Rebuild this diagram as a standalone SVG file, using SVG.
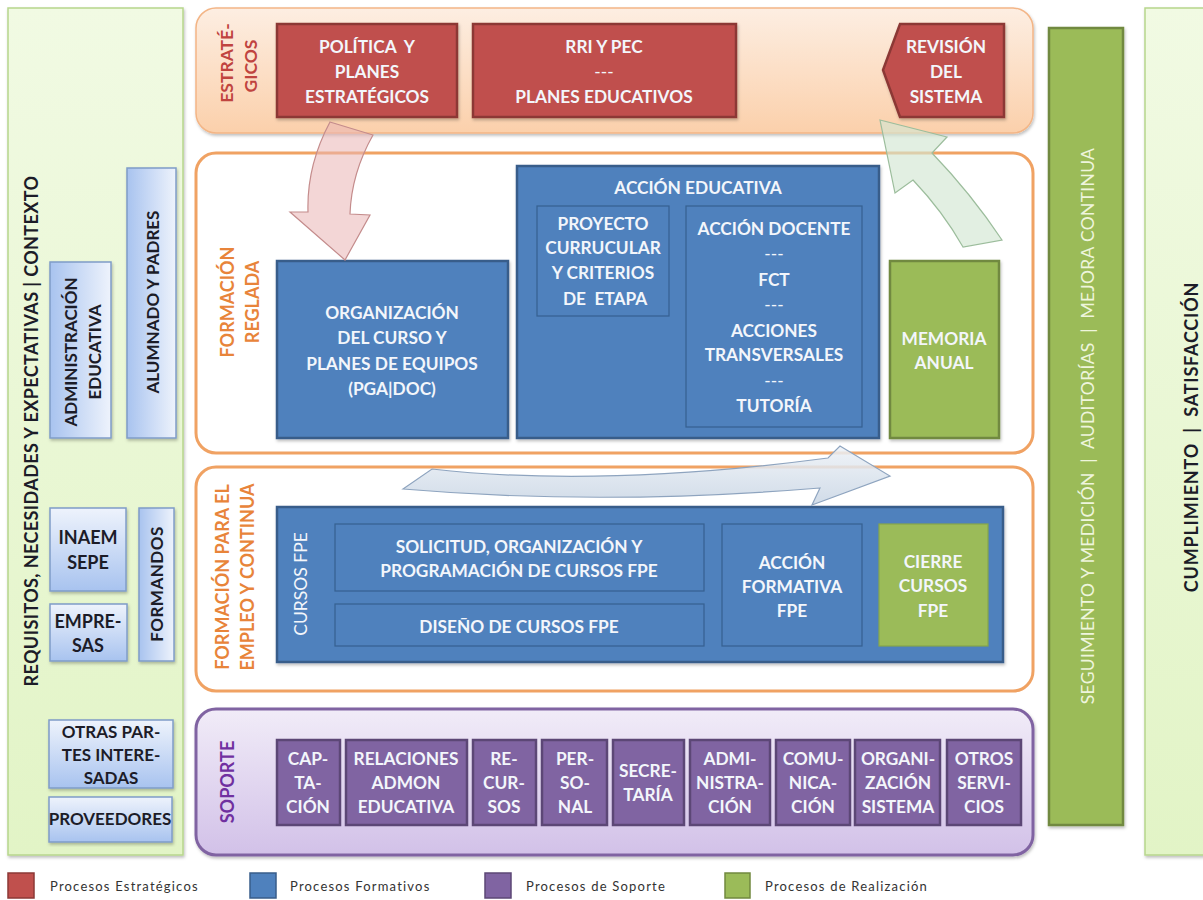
<svg xmlns="http://www.w3.org/2000/svg" width="1203" height="900" viewBox="0 0 1203 900">
<defs>
<linearGradient id="gLeft" x1="0" y1="0" x2="0" y2="1"><stop offset="0" stop-color="#f1fae3"/><stop offset="1" stop-color="#e2f4c6"/></linearGradient>
<linearGradient id="gBlueL" x1="0" y1="0" x2="0" y2="1"><stop offset="0" stop-color="#eef3fc"/><stop offset="1" stop-color="#a8c3ef"/></linearGradient>
<linearGradient id="gBlueV" x1="1" y1="0" x2="0" y2="0"><stop offset="0" stop-color="#eef3fc"/><stop offset="1" stop-color="#a8c3ef"/></linearGradient>
<linearGradient id="gOrange" x1="0" y1="0" x2="0" y2="1"><stop offset="0" stop-color="#fdeee2"/><stop offset="1" stop-color="#fbd0ab"/></linearGradient>
<linearGradient id="gPurple" x1="0" y1="0" x2="0" y2="1"><stop offset="0" stop-color="#f1ecf8"/><stop offset="1" stop-color="#d2c1e8"/></linearGradient>
<linearGradient id="gArrow" x1="0" y1="0" x2="0" y2="1"><stop offset="0" stop-color="#eef2f7" stop-opacity="0.85"/><stop offset="1" stop-color="#c8d5e4" stop-opacity="0.85"/></linearGradient>
<filter id="sh" x="-10%" y="-10%" width="120%" height="120%"><feDropShadow dx="1" dy="2" stdDeviation="1.5" flood-color="#000" flood-opacity="0.25"/></filter>
</defs>
<style>
text{font-family:Lato,"Open Sans","Liberation Sans",sans-serif;font-weight:bold;text-anchor:middle;dominant-baseline:central}
.w{fill:#f3f6fb;font-size:17.3px}
.d{fill:#1c1c28;font-size:17px}
.red{fill:#c0504d;stroke:#8c3836;stroke-width:2.5}
.blue{fill:#4f81bd;stroke:#385d8a;stroke-width:2.5}
.blin{fill:#4f81bd;stroke:#36608f;stroke-width:1.2}
.grn{fill:#9bbb59;stroke:#71893f;stroke-width:2.5}
.pur{fill:#8064a2;stroke:#5c4776;stroke-width:2.5}
.lb{fill:url(#gBlueL);stroke:#7f9cc8;stroke-width:1.5}
.lbv{fill:url(#gBlueV);stroke:#7f9cc8;stroke-width:1.5}
.panel{fill:#fff;stroke:#f0a263;stroke-width:3}
.olab{fill:#e8843a;font-size:18px}
.leg{fill:#333;font-size:13px;font-weight:normal;text-anchor:start;letter-spacing:1.2px}
</style>

<!-- Left context panel -->
<g id="contexto">
<rect x="8" y="8" width="175" height="847" fill="url(#gLeft)" stroke="#b7d68c" stroke-width="1.5" filter="url(#sh)"/>
<text class="d" transform="translate(31,431) rotate(-90)" style="font-size:18px;letter-spacing:0.4px">REQUISITOS, NECESIDADES Y EXPECTATIVAS | CONTEXTO</text>
</g>
<g id="admin-educativa">
<rect class="lbv" x="50" y="262" width="61" height="176" filter="url(#sh)"/>
<text class="d" transform="translate(70,352) rotate(-90)">ADMINISTRACIÓN</text>
<text class="d" transform="translate(94,352) rotate(-90)">EDUCATIVA</text>
</g>
<g id="alumnado">
<rect class="lbv" x="127" y="168" width="49" height="270" filter="url(#sh)"/>
<text class="d" transform="translate(152,302) rotate(-90)">ALUMNADO Y PADRES</text>
</g>
<g id="inaem">
<rect class="lb" x="50" y="508" width="76" height="83" filter="url(#sh)"/>
<text class="d" x="88" y="537" style="font-size:18px">INAEM</text>
<text class="d" x="88" y="562" style="font-size:18px">SEPE</text>
</g>
<g id="empresas">
<rect class="lb" x="50" y="604" width="77" height="57" filter="url(#sh)"/>
<text class="d" x="88" y="621" style="font-size:18px">EMPRE-</text>
<text class="d" x="88" y="645" style="font-size:18px">SAS</text>
</g>
<g id="formandos">
<rect class="lbv" x="139" y="508" width="35" height="153" filter="url(#sh)"/>
<text class="d" transform="translate(156,584) rotate(-90)" style="letter-spacing:0.5px">FORMANDOS</text>
</g>
<g id="otras-partes">
<rect class="lb" x="49" y="720" width="124" height="68" filter="url(#sh)"/>
<text class="d" x="111" y="731">OTRAS PAR-</text>
<text class="d" x="111" y="754">TES INTERE-</text>
<text class="d" x="111" y="777">SADAS</text>
</g>
<g id="proveedores">
<rect class="lb" x="49" y="797" width="123" height="45" filter="url(#sh)"/>
<text class="d" x="110" y="818">PROVEEDORES</text>
</g>

<!-- Estrategicos -->
<g id="estrategicos">
<rect x="196" y="8" width="837" height="125" rx="20" fill="url(#gOrange)" stroke="#f3b586" stroke-width="1.5" filter="url(#sh)"/>
<text transform="translate(226,63) rotate(-90)" style="fill:#c0443f;font-size:17.5px">ESTRATÉ-</text>
<text transform="translate(250,66) rotate(-90)" style="fill:#c0443f;font-size:17.5px">GICOS</text>
</g>
<g id="politica">
<rect class="red" x="277" y="24" width="180" height="93" filter="url(#sh)"/>
<text class="w" x="367" y="46" xml:space="preserve">POLÍTICA  Y</text>
<text class="w" x="367" y="71">PLANES</text>
<text class="w" x="367" y="96">ESTRATÉGICOS</text>
</g>
<g id="rri-pec">
<rect class="red" x="473" y="24" width="263" height="93" filter="url(#sh)"/>
<text class="w" x="604" y="46">RRI Y PEC</text>
<text class="w" x="604" y="71" style="font-weight:normal">---</text>
<text class="w" x="604" y="96">PLANES EDUCATIVOS</text>
</g>
<g id="revision">
<polygon class="red" points="900,24 1004,24 1004,117 900,117 883,70" filter="url(#sh)"/>
<text class="w" x="946" y="46">REVISIÓN</text>
<text class="w" x="946" y="71">DEL</text>
<text class="w" x="946" y="96">SISTEMA</text>
</g>

<!-- Formacion reglada -->
<g id="formacion-reglada">
<rect class="panel" x="196" y="153" width="837" height="300" rx="20"/>
<text class="olab" transform="translate(227,302) rotate(-90)">FORMACIÓN</text>
<text class="olab" transform="translate(252,302) rotate(-90)">REGLADA</text>
</g>
<g id="organizacion">
<rect class="blue" x="277" y="261" width="231" height="177" filter="url(#sh)"/>
<text class="w" x="392" y="312">ORGANIZACIÓN</text>
<text class="w" x="392" y="337">DEL CURSO Y</text>
<text class="w" x="392" y="363">PLANES DE EQUIPOS</text>
<text class="w" x="392" y="388">(PGA|DOC)</text>
</g>
<g id="accion-educativa">
<rect class="blue" x="517" y="166" width="362" height="272" filter="url(#sh)"/>
<text class="w" x="698" y="187">ACCIÓN EDUCATIVA</text>
</g>
<g id="proyecto-curricular">
<rect class="blin" x="537" y="206" width="132" height="110"/>
<text class="w" x="603" y="223">PROYECTO</text>
<text class="w" x="603" y="247">CURRUCULAR</text>
<text class="w" x="603" y="272">Y CRITERIOS</text>
<text class="w" x="603" y="298" xml:space="preserve"> DE  ETAPA</text>
</g>
<g id="accion-docente">
<rect class="blin" x="686" y="206" width="176" height="221"/>
<text class="w" x="774" y="228">ACCIÓN DOCENTE</text>
<text class="w" x="774" y="253" style="font-weight:normal">---</text>
<text class="w" x="774" y="279">FCT</text>
<text class="w" x="774" y="304" style="font-weight:normal">---</text>
<text class="w" x="774" y="330">ACCIONES</text>
<text class="w" x="774" y="354">TRANSVERSALES</text>
<text class="w" x="774" y="380" style="font-weight:normal">---</text>
<text class="w" x="774" y="405">TUTORÍA</text>
</g>
<g id="memoria">
<rect class="grn" x="890" y="261" width="109" height="177" filter="url(#sh)"/>
<text class="w" x="944" y="338">MEMORIA</text>
<text class="w" x="944" y="362">ANUAL</text>
</g>

<!-- Formacion para el empleo -->
<g id="formacion-empleo">
<rect class="panel" x="196" y="467" width="837" height="224" rx="20"/>
<text class="olab" transform="translate(222,577) rotate(-90)">FORMACIÓN PARA EL</text>
<text class="olab" transform="translate(247,577) rotate(-90)">EMPLEO Y CONTINUA</text>
</g>
<g id="cursos-fpe">
<rect class="blue" x="277" y="507" width="726" height="155" filter="url(#sh)"/>
<text class="w" transform="translate(300,584) rotate(-90)" style="font-weight:normal;font-size:17.5px">CURSOS FPE</text>
</g>
<g id="solicitud">
<rect class="blin" x="335" y="524" width="369" height="67"/>
<text class="w" x="519" y="546">SOLICITUD, ORGANIZACIÓN Y</text>
<text class="w" x="519" y="570">PROGRAMACIÓN DE CURSOS FPE</text>
</g>
<g id="diseno">
<rect class="blin" x="335" y="604" width="369" height="42"/>
<text class="w" x="519" y="626">DISEÑO DE CURSOS FPE</text>
</g>
<g id="accion-formativa">
<rect class="blin" x="722" y="524" width="140" height="122"/>
<text class="w" x="792" y="562">ACCIÓN</text>
<text class="w" x="792" y="586">FORMATIVA</text>
<text class="w" x="792" y="610">FPE</text>
</g>
<g id="cierre">
<rect x="879" y="524" width="109" height="122" fill="#9bbb59" stroke="#86a64a" stroke-width="1.2"/>
<text class="w" x="933" y="561">CIERRE</text>
<text class="w" x="933" y="585">CURSOS</text>
<text class="w" x="933" y="610">FPE</text>
</g>

<!-- Soporte -->
<g id="soporte">
<rect x="196" y="709" width="837" height="146" rx="20" fill="url(#gPurple)" stroke="#8064a2" stroke-width="3" filter="url(#sh)"/>
<text transform="translate(227,782) rotate(-90)" style="fill:#7030a0;font-size:18px">SOPORTE</text>
</g>
<g id="captacion"><rect class="pur" x="277" y="740" width="63" height="85"/>
<text class="w" x="308" y="758">CAP-</text><text class="w" x="308" y="782">TA-</text><text class="w" x="308" y="806">CIÓN</text></g>
<g id="relaciones"><rect class="pur" x="346" y="740" width="121" height="85"/>
<text class="w" x="406" y="758">RELACIONES</text><text class="w" x="406" y="782">ADMON</text><text class="w" x="406" y="806">EDUCATIVA</text></g>
<g id="recursos"><rect class="pur" x="473" y="740" width="63" height="85"/>
<text class="w" x="504" y="758">RE-</text><text class="w" x="504" y="782">CUR-</text><text class="w" x="504" y="806">SOS</text></g>
<g id="personal"><rect class="pur" x="542" y="740" width="65" height="85"/>
<text class="w" x="575" y="758">PER-</text><text class="w" x="575" y="782">SO-</text><text class="w" x="575" y="806">NAL</text></g>
<g id="secretaria"><rect class="pur" x="613" y="740" width="71" height="85"/>
<text class="w" x="648" y="770">SECRE-</text><text class="w" x="648" y="794">TARÍA</text></g>
<g id="administracion"><rect class="pur" x="690" y="740" width="80" height="85"/>
<text class="w" x="730" y="758">ADMI-</text><text class="w" x="730" y="782">NISTRA-</text><text class="w" x="730" y="806">CIÓN</text></g>
<g id="comunicacion"><rect class="pur" x="776" y="740" width="74" height="85"/>
<text class="w" x="813" y="758">COMU-</text><text class="w" x="813" y="782">NICA-</text><text class="w" x="813" y="806">CIÓN</text></g>
<g id="organizacion-sistema"><rect class="pur" x="855" y="740" width="85" height="85"/>
<text class="w" x="898" y="758">ORGANI-</text><text class="w" x="898" y="782">ZACIÓN</text><text class="w" x="898" y="806">SISTEMA</text></g>
<g id="otros-servicios"><rect class="pur" x="947" y="740" width="74" height="85"/>
<text class="w" x="984" y="758">OTROS</text><text class="w" x="984" y="782">SERVI-</text><text class="w" x="984" y="806">CIOS</text></g>

<!-- Right bars -->
<g id="seguimiento">
<rect class="grn" x="1049" y="28" width="74" height="797" filter="url(#sh)"/>
<text transform="translate(1087,426) rotate(-90)" style="fill:#eef5dc;font-size:17.5px;font-weight:normal;letter-spacing:0.3px" xml:space="preserve">SEGUIMIENTO Y MEDICIÓN  |  AUDITORÍAS  |  MEJORA CONTINUA</text>
</g>
<g id="cumplimiento">
<rect x="1145" y="8" width="66" height="847" fill="url(#gLeft)" stroke="#b7d68c" stroke-width="1.5" filter="url(#sh)"/>
<text class="d" transform="translate(1191,437) rotate(-90)" style="font-size:18px;letter-spacing:0.8px" xml:space="preserve">CUMPLIMIENTO  |  SATISFACCIÓN</text>
</g>

<!-- Connectors (arrows) -->
<g id="connectors">
<path d="M330,122 L373,135 C360,158 351,186 350,214 L370,215 L345,260 L290,212 L308,212 C307,180 315,150 330,122 Z" fill="#eab4b4" fill-opacity="0.55" stroke="#c48c8c" stroke-width="1.2"/>
<path d="M880,120 L947,137 L932,153 C958,180 984,213 1002,240 L963,247 C950,224 932,200 913,180 L895,193 Z" fill="#d3e6d3" fill-opacity="0.65" stroke="#9cbd9c" stroke-width="1.2"/>
<path d="M403,489 L432,469 Q600,488 828,458 L840,446 L890,476 L812,505 L820,488 Q600,506 403,489 Z" fill="url(#gArrow)" stroke="#8ea4bf" stroke-width="1.2"/>
</g>

<!-- Legend -->
<g id="legend">
<rect x="8" y="873" width="26" height="25" fill="#c0504d" stroke="#8c3836" stroke-width="1.5"/>
<text class="leg" x="50" y="886">Procesos Estratégicos</text>
<rect x="250" y="873" width="26" height="25" fill="#4f81bd" stroke="#385d8a" stroke-width="1.5"/>
<text class="leg" x="290" y="886">Procesos Formativos</text>
<rect x="485" y="873" width="26" height="25" fill="#8064a2" stroke="#5c4776" stroke-width="1.5"/>
<text class="leg" x="526" y="886">Procesos de Soporte</text>
<rect x="725" y="873" width="25" height="25" fill="#9bbb59" stroke="#71893f" stroke-width="1.5"/>
<text class="leg" x="765" y="886">Procesos de Realización</text>
</g>
</svg>
